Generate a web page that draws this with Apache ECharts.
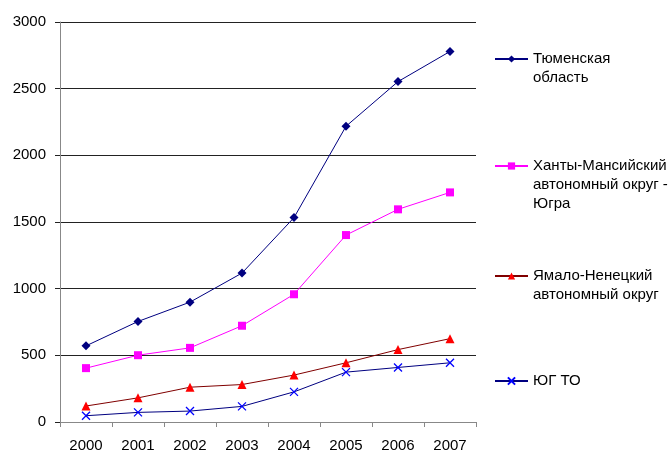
<!DOCTYPE html>
<html>
<head>
<meta charset="utf-8">
<script src="https://cdn.jsdelivr.net/npm/echarts@6/dist/echarts.min.js"></script>
<style>
  html, body { margin: 0; padding: 0; background: #fff; }
  #chart { width: 671px; height: 453px; }
</style>
</head>
<body>
<div id="chart"></div>
<script>
// Years on the horizontal axis
const years = ['2000', '2001', '2002', '2003', '2004', '2005', '2006', '2007'];

// Series values
const tyumenRegion = [571, 754, 899, 1117, 1533, 2218, 2553, 2779];
const khantyMansi = [404, 501, 556, 722, 958, 1402, 1595, 1722];
const yamaloNenets = [120, 181, 261, 281, 352, 444, 543, 625];
const southTyumen = [47, 72, 82, 117, 226, 374, 409, 444];

// Series names (legend text)
const names = [
  'Тюменская\nобласть',
  'Ханты-Мансийский\nавтономный округ -\nЮгра',
  'Ямало-Ненецкий\nавтономный округ',
  'ЮГ ТО'
];

const FONT = '"Liberation Sans", Arial, sans-serif';
const LH = 19;

const crossPath = 'path://M0,0L10,10M10,0L0,10';

// One legend block per series; the marker sits beside the first text line.
function legendFor(name, iconY) {
  const n = name.split('\n').length;
  return {
    data: [name],
    left: 494,
    top: iconY - (2 * n - 1) * LH / 2,
    padding: 0,
    itemWidth: 33,
    itemHeight: 9,
    selectedMode: false,
    // leading blank lines keep the block centred on its first line
    formatter: (nm) => '\n'.repeat(n - 1) + nm,
    textStyle: {
      fontFamily: FONT,
      fontSize: 15,
      color: '#000',
      lineHeight: LH
    }
  };
}

const chart = echarts.init(document.getElementById('chart'), null, { renderer: 'canvas' });

chart.setOption({
  animation: false,
  backgroundColor: '#fff',
  grid: { left: 60, right: 195, top: 22, bottom: 28, containLabel: false },
  legend: [
    legendFor(names[0], 59),
    legendFor(names[1], 166),
    legendFor(names[2], 276),
    legendFor(names[3], 381)
  ],
  xAxis: {
    type: 'category',
    data: years,
    boundaryGap: true,
    axisLine: { lineStyle: { color: '#888', width: 1 } },
    axisTick: { show: true, length: 5, alignWithLabel: false, lineStyle: { color: '#888' } },
    axisLabel: { fontFamily: FONT, fontSize: 15, color: '#000', margin: 16 },
    splitLine: { show: false }
  },
  yAxis: {
    type: 'value',
    min: 0,
    max: 3000,
    interval: 500,
    axisLine: { show: true, lineStyle: { color: '#888', width: 1 } },
    axisTick: { show: true, length: 5, lineStyle: { color: '#222' } },
    axisLabel: {
      fontFamily: FONT, fontSize: 15, color: '#000', margin: 14,
      formatter: (v) => String(v)
    },
    splitLine: { show: true, lineStyle: { color: '#222', width: 1 } }
  },
  series: [
    {
      name: names[0],
      type: 'line',
      data: tyumenRegion,
      symbol: 'diamond',
      symbolSize: 9,
      lineStyle: { color: '#000080', width: 1 },
      itemStyle: { color: '#000080' },
      emphasis: { disabled: true }
    },
    {
      name: names[1],
      type: 'line',
      data: khantyMansi,
      symbol: 'rect',
      symbolSize: 8,
      lineStyle: { color: '#ff00ff', width: 1 },
      itemStyle: { color: '#ff00ff' },
      emphasis: { disabled: true }
    },
    {
      name: names[2],
      type: 'line',
      data: yamaloNenets,
      symbol: 'triangle',
      symbolSize: 9,
      lineStyle: { color: '#800000', width: 1 },
      itemStyle: { color: '#ff0000' },
      emphasis: { disabled: true }
    },
    {
      name: names[3],
      type: 'line',
      data: southTyumen,
      symbol: crossPath,
      symbolSize: 8,
      lineStyle: { color: '#000080', width: 1 },
      itemStyle: { color: 'rgba(0,0,0,0)', borderColor: '#0000ff', borderWidth: 1.3 },
      emphasis: { disabled: true }
    }
  ]
});
</script>
</body>
</html>
